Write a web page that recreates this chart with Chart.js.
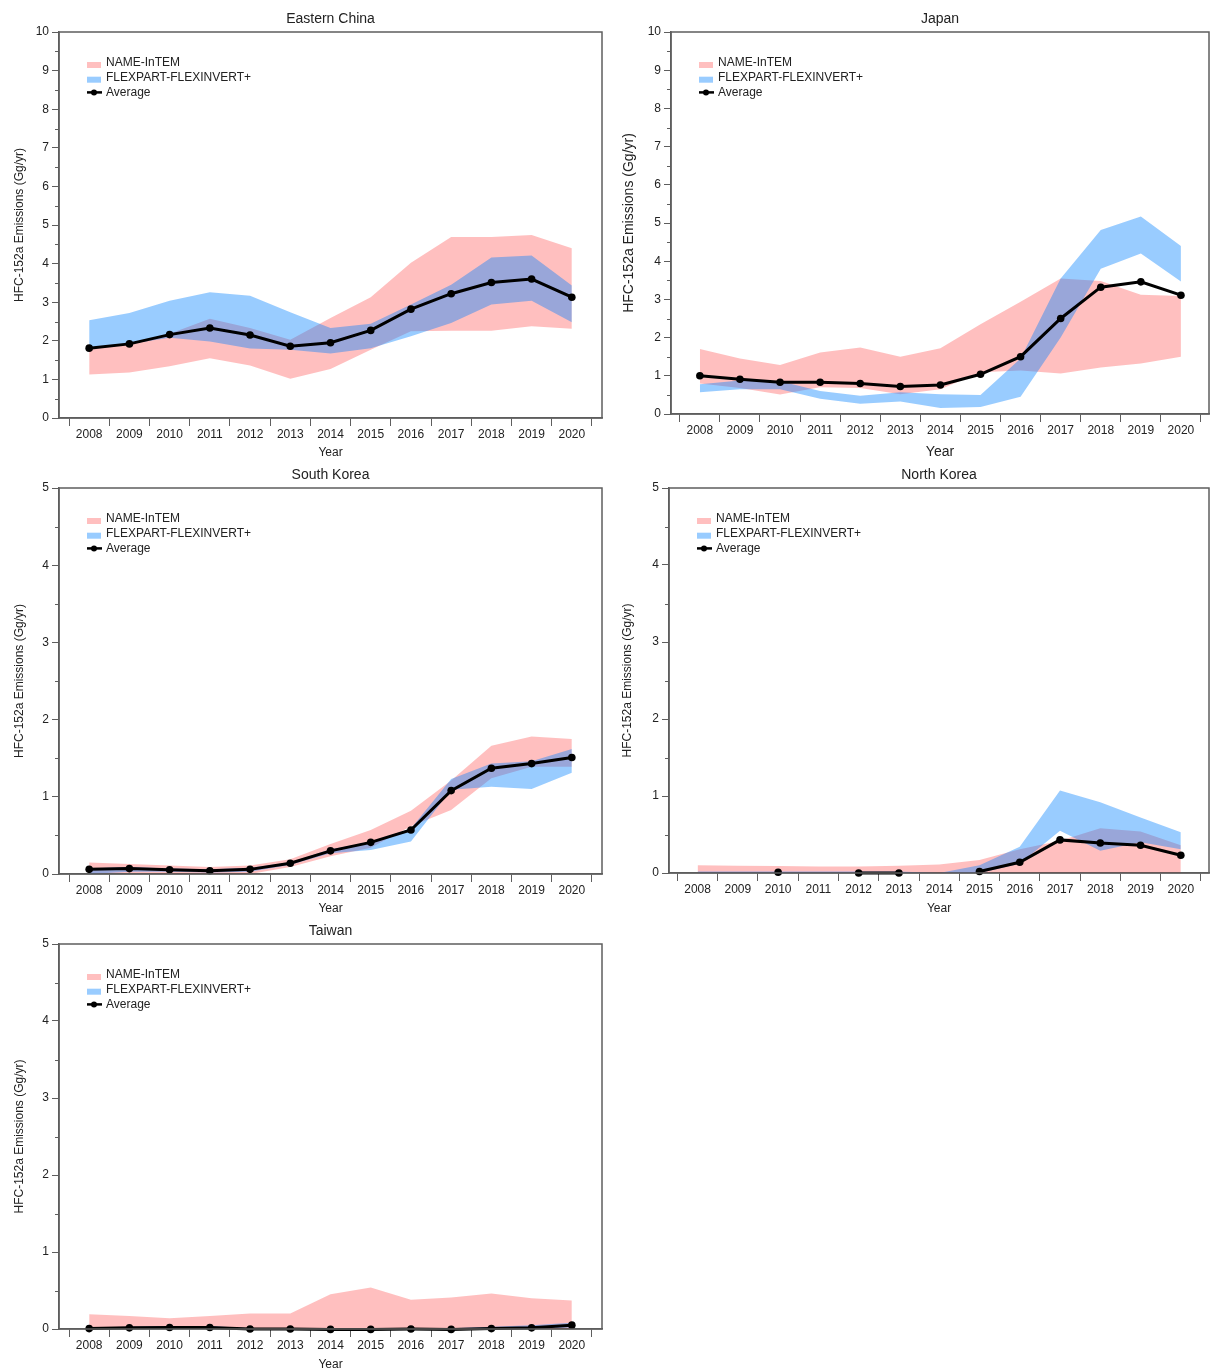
<!DOCTYPE html>
<html>
<head>
<meta charset="utf-8">
<script src="https://cdn.jsdelivr.net/npm/chart.js@4.4.1/dist/chart.umd.min.js"></script>
<style>
  body { margin: 0; background: #fff; }
  #wrap { position: relative; width: 1213px; height: 1372px; overflow: hidden; }
  canvas { position: absolute; }
</style>
</head>
<body>
<div id="wrap">
  <canvas id="eastChina"></canvas>
  <canvas id="japan"></canvas>
  <canvas id="southKorea"></canvas>
  <canvas id="northKorea"></canvas>
  <canvas id="taiwan"></canvas>
</div>
<script>
// years on the x axis
const years = [2008, 2009, 2010, 2011, 2012, 2013, 2014, 2015, 2016, 2017, 2018, 2019, 2020];
const legendLabels = ['NAME-InTEM', 'FLEXPART-FLEXINVERT+', 'Average'];
const yTitle = 'HFC-152a Emissions (Gg/yr)';
const xTitle = 'Year';

// Eastern China
const chinaNameLow  = [1.13, 1.18, 1.34, 1.55, 1.36, 1.02, 1.27, 1.77, 2.25, 2.26, 2.26, 2.38, 2.31];
const chinaNameHigh = [1.80, 1.92, 2.18, 2.57, 2.33, 2.03, 2.59, 3.13, 4.02, 4.69, 4.69, 4.74, 4.40];
const chinaFlexLow  = [1.80, 1.92, 2.08, 1.98, 1.80, 1.77, 1.67, 1.81, 2.12, 2.46, 2.94, 3.04, 2.48];
const chinaFlexHigh = [2.53, 2.72, 3.04, 3.26, 3.17, 2.74, 2.33, 2.44, 2.94, 3.45, 4.16, 4.21, 3.43];
const chinaAvg      = [1.81, 1.92, 2.16, 2.33, 2.15, 1.86, 1.95, 2.27, 2.82, 3.22, 3.51, 3.60, 3.13];

// Japan
const japanNameLow  = [0.80, 0.68, 0.51, 0.70, 0.68, 0.52, 0.65, 1.09, 1.14, 1.06, 1.22, 1.32, 1.50];
const japanNameHigh = [1.70, 1.45, 1.28, 1.61, 1.74, 1.50, 1.72, 2.35, 2.94, 3.55, 3.48, 3.12, 3.09];
const japanFlexLow  = [0.57, 0.65, 0.65, 0.40, 0.27, 0.33, 0.16, 0.18, 0.45, 2.00, 3.80, 4.20, 3.47];
const japanFlexHigh = [0.78, 0.88, 0.86, 0.60, 0.48, 0.57, 0.52, 0.50, 1.45, 3.55, 4.82, 5.17, 4.40];
const japanAvg      = [1.00, 0.91, 0.83, 0.83, 0.80, 0.72, 0.76, 1.04, 1.50, 2.50, 3.32, 3.46, 3.11];

// South Korea
const skNameLow  = [0.01, 0.01, 0.00, 0.00, 0.00, 0.09, 0.23, 0.34, 0.62, 0.83, 1.24, 1.39, 1.39];
const skNameHigh = [0.15, 0.13, 0.11, 0.09, 0.11, 0.19, 0.39, 0.57, 0.82, 1.21, 1.66, 1.78, 1.75];
const skFlexLow  = [0.00, 0.03, 0.03, 0.02, 0.03, 0.12, 0.27, 0.31, 0.42, 1.09, 1.13, 1.10, 1.31];
const skFlexHigh = [0.07, 0.09, 0.07, 0.06, 0.08, 0.15, 0.32, 0.41, 0.59, 1.23, 1.43, 1.46, 1.62];
const skAvg      = [0.06, 0.07, 0.056, 0.043, 0.06, 0.14, 0.30, 0.41, 0.57, 1.08, 1.37, 1.43, 1.51];

// North Korea
const nkNameLow  = [0, 0, 0, 0, 0, 0, 0, 0, 0, 0, 0, 0, 0];
const nkNameHigh = [0.10, 0.095, 0.09, 0.085, 0.085, 0.095, 0.11, 0.17, 0.31, 0.42, 0.58, 0.54, 0.36];
const nkFlexLow  = [0, 0, 0, 0, 0, 0, 0, 0, 0.12, 0.55, 0.29, 0.40, 0.31];
const nkFlexHigh = [0.02, 0.02, 0.02, 0.02, 0.02, 0.02, 0.0, 0.10, 0.34, 1.07, 0.92, 0.72, 0.53];
const nkAvg      = [null, null, 0.01, null, 0.0, 0.0, null, 0.02, 0.14, 0.43, 0.39, 0.36, 0.23];

// Taiwan
const twNameLow  = [0, 0, 0, 0, 0, 0, 0, 0, 0, 0, 0, 0, 0];
const twNameHigh = [0.19, 0.17, 0.14, 0.17, 0.20, 0.20, 0.45, 0.54, 0.38, 0.41, 0.46, 0.40, 0.37];
const twFlexLow  = [0, 0, 0, 0, 0, 0, 0, 0, 0, 0, 0, 0, 0.02];
const twFlexHigh = [0.02, 0.03, 0.04, 0.04, 0.01, 0.01, 0, 0, 0.01, 0.01, 0.03, 0.05, 0.08];
const twAvg      = [0.005, 0.015, 0.02, 0.02, 0, 0, -0.005, -0.005, 0, -0.005, 0.005, 0.015, 0.05];

const pink = 'rgba(255,0,0,0.25)';
const blue = 'rgba(0,128,255,0.4)';
const axisColor = '#5e5e5e';
const textColor = '#222';

Chart.defaults.font.family = '"Liberation Sans", Arial, sans-serif';
Chart.defaults.color = textColor;

// panel layout (canvas position and where the plot box sits inside it)
const panels = [
    {id: 'eastChina', title: 'Eastern China', left: 0, top: 0, h: 456, box: {l: 59, r: 602, t: 32, b: 418},
     xMin: 2007.25, xMax: 2020.75, yMax: 10, titleSize: 12, yPad: 12.6,
     series: [chinaNameLow, chinaNameHigh, chinaFlexLow, chinaFlexHigh, chinaAvg]},
    {id: 'japan', title: 'Japan', left: 607, top: 0, h: 456, box: {l: 64, r: 602, t: 32, b: 414},
     xMin: 2007.28, xMax: 2020.7, yMax: 10, titleSize: 14, yPad: 13.4,
     series: [japanNameLow, japanNameHigh, japanFlexLow, japanFlexHigh, japanAvg]},
    {id: 'southKorea', title: 'South Korea', left: 0, top: 456, h: 456, box: {l: 59, r: 602, t: 32, b: 418},
     xMin: 2007.25, xMax: 2020.75, yMax: 5, titleSize: 12, yPad: 12.6,
     series: [skNameLow, skNameHigh, skFlexLow, skFlexHigh, skAvg]},
    {id: 'northKorea', title: 'North Korea', left: 607, top: 456, h: 456, box: {l: 62, r: 602, t: 32, b: 417},
     xMin: 2007.29, xMax: 2020.7, yMax: 5, titleSize: 12, yPad: 13.6,
     series: [nkNameLow, nkNameHigh, nkFlexLow, nkFlexHigh, nkAvg]},
    {id: 'taiwan', title: 'Taiwan', left: 0, top: 912, h: 456, box: {l: 59, r: 602, t: 32, b: 417},
     xMin: 2007.25, xMax: 2020.75, yMax: 5, titleSize: 12, yPad: 12.6,
     series: [twNameLow, twNameHigh, twFlexLow, twFlexHigh, twAvg]}
];

function pts(arr) {
    return years.map((yr, i) => ({x: yr, y: arr[i]}));
}

// frame, minor y ticks and the legend inside the plot
const decorations = {
    id: 'decorations',
    afterDraw(chart) {
        const ctx = chart.ctx;
        const a = chart.chartArea;
        const ys = chart.scales.y;
        ctx.save();
        ctx.strokeStyle = axisColor;
        ctx.lineWidth = 1.5;
        ctx.strokeRect(a.left, a.top, a.right - a.left, a.bottom - a.top);
        ctx.lineWidth = 1;
        for (let v = 0.5; v < ys.max; v += 1) {
            const y = Math.round(ys.getPixelForValue(v)) + 0.5;
            ctx.beginPath();
            ctx.moveTo(a.left - 4, y);
            ctx.lineTo(a.left, y);
            ctx.stroke();
        }

        // legend
        const x0 = a.left + 28;
        let y = a.top + 31;
        ctx.font = '12px "Liberation Sans", Arial, sans-serif';
        ctx.textBaseline = 'middle';
        ctx.textAlign = 'left';
        const swatches = [pink, blue];
        legendLabels.forEach((lab, i) => {
            if (i < 2) {
                ctx.fillStyle = swatches[i];
                ctx.fillRect(x0, y - 1, 14, 6);
            } else {
                ctx.strokeStyle = '#000';
                ctx.lineWidth = 2.5;
                ctx.beginPath();
                ctx.moveTo(x0, y);
                ctx.lineTo(x0 + 15, y);
                ctx.stroke();
                ctx.fillStyle = '#000';
                ctx.beginPath();
                ctx.arc(x0 + 7, y, 3, 0, Math.PI * 2);
                ctx.fill();
            }
            ctx.fillStyle = textColor;
            ctx.fillText(lab, x0 + 19, y);
            y += 14.7;
        });
        ctx.restore();
    }
};

panels.forEach(p => {
    const canvas = document.getElementById(p.id);
    canvas.width = 606;
    canvas.height = p.h;
    canvas.style.left = p.left + 'px';
    canvas.style.top = p.top + 'px';
    const s = p.series;

    new Chart(canvas, {
        type: 'line',
        data: {
            datasets: [
                {label: 'NAME low', data: pts(s[0]), borderColor: 'transparent', borderWidth: 0,
                 pointRadius: 0, fill: false, order: 3},
                {label: legendLabels[0], data: pts(s[1]), borderColor: 'transparent', borderWidth: 0,
                 pointRadius: 0, fill: '-1', backgroundColor: pink, order: 3},
                {label: 'FLEX low', data: pts(s[2]), borderColor: 'transparent', borderWidth: 0,
                 pointRadius: 0, fill: false, order: 2},
                {label: legendLabels[1], data: pts(s[3]), borderColor: 'transparent', borderWidth: 0,
                 pointRadius: 0, fill: '-1', backgroundColor: blue, order: 2},
                {label: legendLabels[2], data: pts(s[4]), borderColor: '#000', borderWidth: 3,
                 pointRadius: 3.8, pointBorderWidth: 0, pointBackgroundColor: '#000',
                 fill: false, order: 1, clip: false}
            ]
        },
        options: {
            responsive: false,
            animation: false,
            layout: {padding: {left: 0, right: 606 - p.box.r, top: 0, bottom: 0}},
            plugins: {
                legend: {display: false},
                tooltip: {enabled: false},
                title: {
                    display: true,
                    text: p.title,
                    fullSize: false,
                    color: textColor,
                    font: {size: 14, weight: 'normal', lineHeight: 1.2},
                    padding: {top: 11, bottom: p.box.t - 27.8}
                }
            },
            scales: {
                x: {
                    type: 'linear',
                    min: p.xMin,
                    max: p.xMax,
                    afterBuildTicks: axis => { axis.ticks = years.map(v => ({value: v})); },
                    afterFit: scale => { scale.height = p.h - p.box.b; },
                    ticks: {
                        autoSkip: false, maxRotation: 0, padding: 1, color: textColor,
                        font: {size: 12},
                        callback: v => String(v)
                    },
                    grid: {offset: true, drawOnChartArea: false, tickLength: 8, tickColor: axisColor},
                    border: {color: axisColor, width: 1.5},
                    title: {display: true, text: xTitle, color: textColor,
                            font: {size: p.titleSize, lineHeight: 1}, padding: {top: 0, bottom: -3}}
                },
                y: {
                    min: 0,
                    max: p.yMax,
                    afterFit: scale => { scale.width = p.box.l; },
                    ticks: {
                        stepSize: 0.5, autoSkip: false, padding: 3, color: textColor,
                        font: {size: 12},
                        callback: v => (v % 1 === 0 ? String(v) : '')
                    },
                    grid: {
                        drawOnChartArea: false, tickLength: 7,
                        tickColor: c => (c.tick && c.tick.value % 1 === 0 ? axisColor : 'rgba(0,0,0,0)')
                    },
                    border: {color: axisColor, width: 1.5},
                    title: {display: true, text: yTitle, color: textColor,
                            font: {size: p.titleSize, lineHeight: 1.2}, padding: {top: p.yPad, bottom: 0}}
                }
            }
        },
        plugins: [decorations]
    });
});
</script>
</body>
</html>
